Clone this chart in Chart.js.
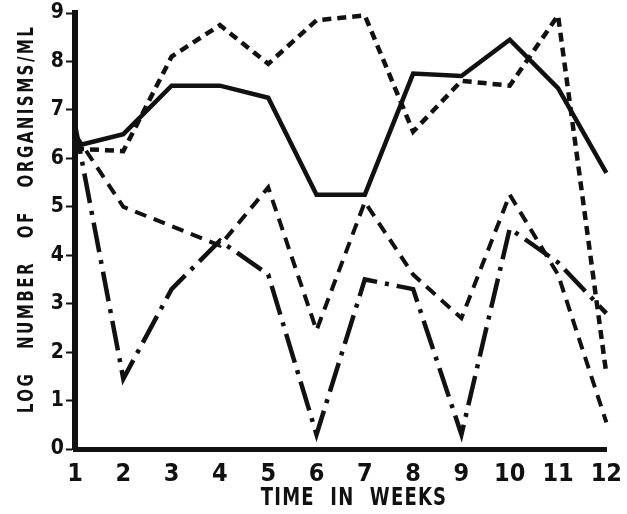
<!DOCTYPE html>
<html>
<head>
<meta charset="utf-8">
<script src="https://cdn.jsdelivr.net/npm/chart.js@4"></script>
<style>
  html, body { margin: 0; padding: 0; background: #fff; }
  canvas { display: block; }
</style>
</head>
<body>
<canvas id="chart" width="627" height="514"></canvas>
<script>
// data (log organisms / ml per week)
const weeks = [1, 2, 3, 4, 5, 6, 7, 8, 9, 10, 11, 12];
const solidSeries = [6.25, 6.5, 7.5, 7.5, 7.25, 5.25, 5.25, 7.75, 7.7, 8.45, 7.45, 5.7];
const shortDashSeries = [6.2, 6.15, 8.1, 8.75, 7.95, 8.85, 8.95, 6.55, 7.6, 7.5, 8.95, 1.55];
const longDashSeries = [6.5, 5.0, 4.6, 4.2, 5.4, 2.45, 5.1, 3.6, 2.7, 5.25, 3.6, 0.55];
const dashDotSeries = [6.7, 1.45, 3.3, 4.3, 3.6, 0.3, 3.5, 3.3, 0.3, 4.55, 3.85, 2.8];
const yTicks = [0, 1, 2, 3, 4, 5, 6, 7, 8, 9];

const xTitle = 'TIME IN WEEKS';
const yTitle = 'LOG NUMBER OF ORGANISMS/ML';

const INK = '#111';
const FONT = '"Liberation Sans Narrow", "DejaVu Sans Condensed", sans-serif';

function toPoints(values) {
  return values.map((v, i) => ({ x: weeks[i], y: v }));
}

function lineSet(label, values, dash, width) {
  return {
    label: label,
    data: toPoints(values),
    borderColor: INK,
    backgroundColor: INK,
    borderWidth: width,
    borderDash: dash,
    borderJoinStyle: 'miter',
    borderCapStyle: 'butt',
    pointRadius: 0,
    tension: 0,
    fill: false,
    clip: false
  };
}

// condensed, letter-spaced axis titles like the typed original
const axisTitles = {
  id: 'axisTitles',
  afterDraw(chart) {
    const ctx = chart.ctx;
    ctx.save();
    ctx.fillStyle = INK;
    ctx.textAlign = 'center';
    ctx.textBaseline = 'middle';

    ctx.save();
    ctx.translate(354, 498);
    ctx.scale(0.8, 1);
    ctx.font = 'bold 25px ' + FONT;
    ctx.letterSpacing = '1.5px';
    ctx.wordSpacing = '10px';
    ctx.fillText(xTitle, 0, 0);
    ctx.restore();

    ctx.save();
    ctx.translate(28, 219);
    ctx.rotate(-Math.PI / 2);
    ctx.scale(0.8, 1);
    ctx.font = 'bold 21px ' + FONT;
    ctx.letterSpacing = '3px';
    ctx.wordSpacing = '19px';
    ctx.fillText(yTitle, 0, 0);
    ctx.restore();

    ctx.restore();
  }
};

new Chart(document.getElementById('chart'), {
  type: 'line',
  data: {
    datasets: [
      lineSet('solid', solidSeries, [], 4.5),
      lineSet('short dash', shortDashSeries, [9, 6], 4.5),
      lineSet('long dash', longDashSeries, [12, 8], 4),
      lineSet('dash dot', dashDotSeries, [30, 8, 4, 8], 4.5)
    ]
  },
  options: {
    responsive: false,
    animation: false,
    layout: { padding: { left: 0, right: 16, top: 13, bottom: 0 } },
    plugins: {
      legend: { display: false },
      tooltip: { enabled: false }
    },
    scales: {
      x: {
        type: 'linear',
        min: 1,
        max: 12,
        afterFit: (scale) => { scale.height = 65; },
        afterBuildTicks: (scale) => { scale.ticks = weeks.map(w => ({ value: w })); },
        grid: { display: false },
        border: { display: true, color: INK, width: 5 },
        ticks: {
          color: INK,
          padding: 5,
          maxRotation: 0,
          autoSkip: false,
          font: { family: FONT, size: 25, weight: 'bold', lineHeight: 1 }
        }
      },
      y: {
        type: 'linear',
        min: 0,
        max: 9,
        afterFit: (scale) => { scale.width = 75; },
        afterBuildTicks: (scale) => { scale.ticks = yTicks.map(v => ({ value: v })); },
        grid: {
          drawOnChartArea: false,
          drawTicks: true,
          tickLength: 9,
          tickWidth: 2,
          tickColor: INK,
          color: INK
        },
        border: { display: true, color: INK, width: 6 },
        ticks: {
          color: INK,
          padding: 2,
          font: { family: FONT, size: 21, weight: 'bold', lineHeight: 1 }
        }
      }
    }
  },
  plugins: [axisTitles]
});
</script>
</body>
</html>
